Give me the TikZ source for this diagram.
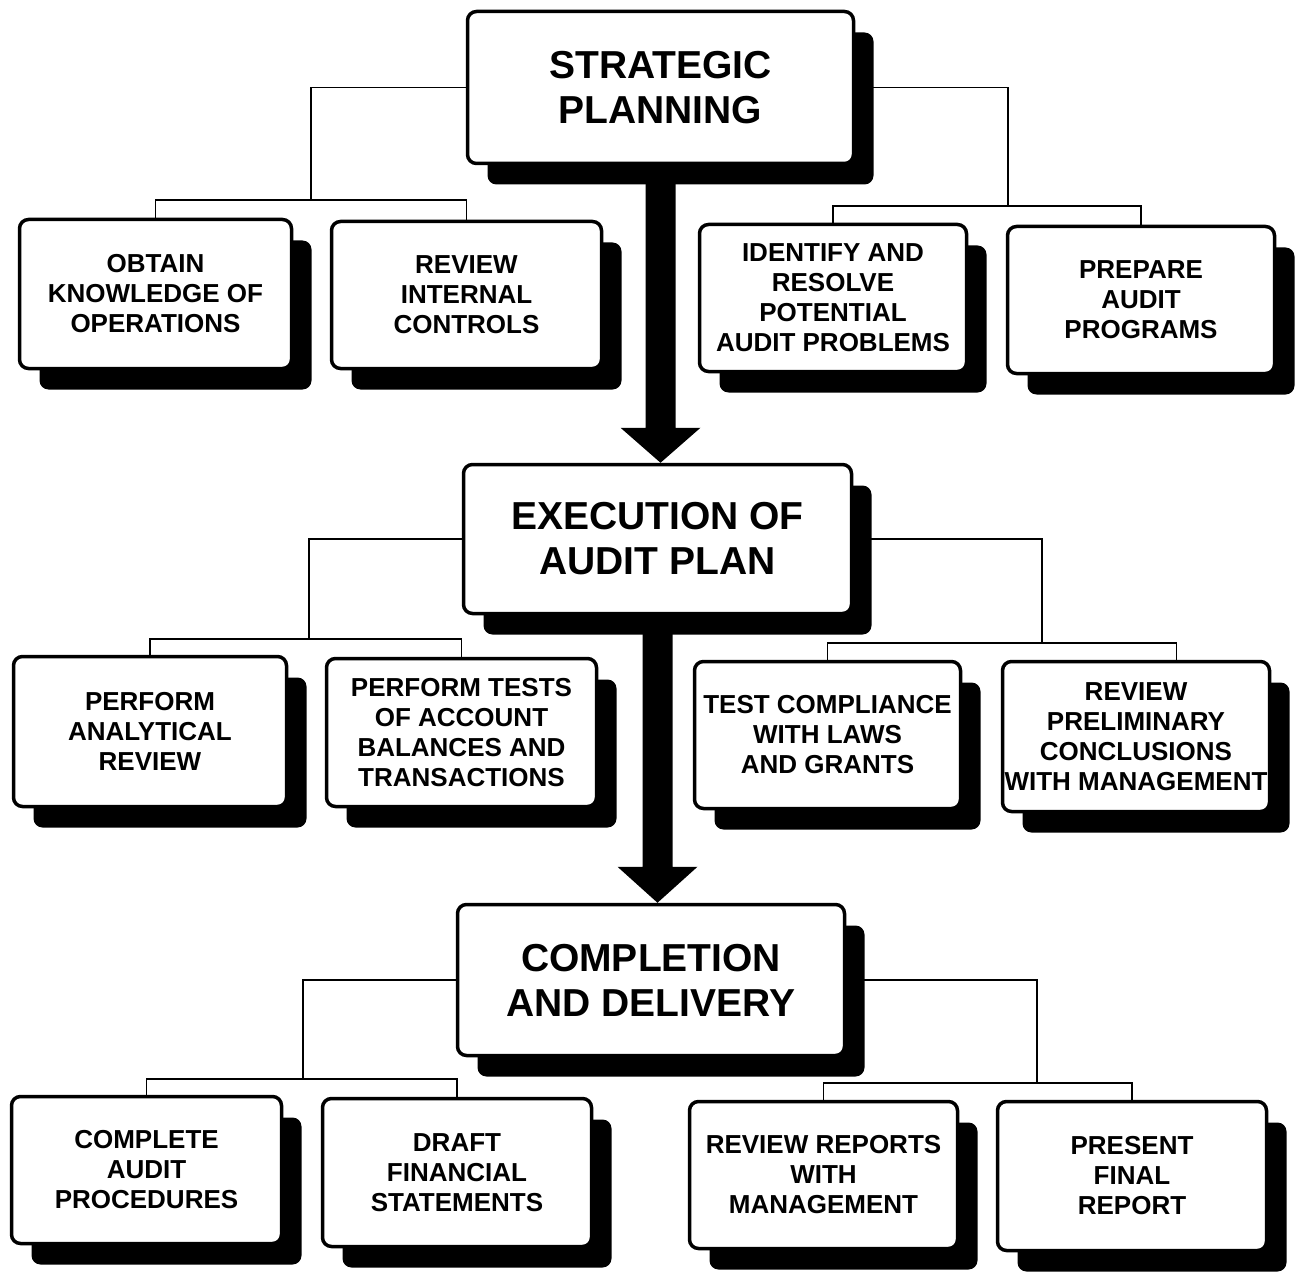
\documentclass[tikz,border=0pt]{standalone}
\usepackage{fontspec}
\setmainfont{Liberation Sans}
\usetikzlibrary{calc,shadows}
\begin{document}
\begin{tikzpicture}[x=1pt,y=-1pt,
  box/.style={draw=black, line width=3.5pt, fill=white, rounded corners=9pt,
    inner sep=0pt, align=center,
    font=\fontsize{26}{30}\selectfont\bfseries,
    general shadow={fill=black, shadow xshift=20pt, shadow yshift=-21pt}},
  bigbox/.style={box, font=\fontsize{39}{45}\selectfont\bfseries},
  conn/.style={line width=1.3pt},
  flow/.style={fill=black}]
\useasboundingbox (0,0) rectangle (1298,1273);

% main stages
\node[bigbox, minimum width=386pt, minimum height=152pt] (sp) at (660.5,87.5) {STRATEGIC\\PLANNING};
\node[bigbox, minimum width=388pt, minimum height=149pt] (ex) at (657.5,539) {EXECUTION OF\\AUDIT PLAN};
\node[bigbox, minimum width=387pt, minimum height=151pt] (cd) at (651,980) {COMPLETION\\AND DELIVERY};

% level 1
\node[box, minimum width=272pt, minimum height=149pt] (a1) at (155.5,294) {OBTAIN\\KNOWLEDGE OF\\OPERATIONS};
\node[box, minimum width=270pt, minimum height=147pt] (a2) at (466.5,295) {REVIEW\\INTERNAL\\CONTROLS};
\node[box, minimum width=267pt, minimum height=147pt] (a3) at (833,298) {IDENTIFY AND\\RESOLVE\\POTENTIAL\\AUDIT PROBLEMS};
\node[box, minimum width=267pt, minimum height=147pt] (a4) at (1141,300) {PREPARE\\AUDIT\\PROGRAMS};

% level 2
\node[box, minimum width=273pt, minimum height=150pt] (b1) at (150,731.5) {PERFORM\\ANALYTICAL\\REVIEW};
\node[box, minimum width=270pt, minimum height=148pt] (b2) at (461.5,732.5) {PERFORM TESTS\\OF ACCOUNT\\BALANCES AND\\TRANSACTIONS};
\node[box, minimum width=266pt, minimum height=147pt] (b3) at (827.5,735) {TEST COMPLIANCE\\WITH LAWS\\AND GRANTS};
\node[box, minimum width=267pt, minimum height=150pt] (b4) at (1136,736.5) {REVIEW\\PRELIMINARY\\CONCLUSIONS\\WITH MANAGEMENT};

% level 3
\node[box, minimum width=270pt, minimum height=147pt] (c1) at (146.5,1170) {COMPLETE\\AUDIT\\PROCEDURES};
\node[box, minimum width=269pt, minimum height=148pt] (c2) at (457,1172.5) {DRAFT\\FINANCIAL\\STATEMENTS};
\node[box, minimum width=268pt, minimum height=147pt] (c3) at (823.5,1175) {REVIEW REPORTS\\WITH\\MANAGEMENT};
\node[box, minimum width=269pt, minimum height=149pt] (c4) at (1132,1176) {PRESENT\\FINAL\\REPORT};

% junctions
\coordinate (j1) at (311,200);
\coordinate (j2) at (1008,206);
\coordinate (j3) at (309,639);
\coordinate (j4) at (1042,643);
\coordinate (j5) at (303,1079);
\coordinate (j6) at (1037,1083);
\coordinate (b4n) at ($(b4.north west)!0.65!(b4.north east)$);

% connectors
\draw[conn] (sp.west) -| (j1);
\draw[conn] (a1.north) |- (j1) -| (a2.north);
\draw[conn] (sp.east) -| (j2);
\draw[conn] (a3.north) |- (j2) -| (a4.north);
\draw[conn] (ex.west) -| (j3);
\draw[conn] (b1.north) |- (j3) -| (b2.north);
\draw[conn] (ex.east) -| (j4);
\draw[conn] (b3.north) |- (j4) -| (b4n);
\draw[conn] (cd.west) -| (j5);
\draw[conn] (c1.north) |- (j5) -| (c2.north);
\draw[conn] (cd.east) -| (j6);
\draw[conn] (c3.north) |- (j6) -| (c4.north);

% big flow arrows
\fill[flow] ($(sp.south)+(-15,0)$) -- ($(sp.south |- ex.north)+(-15,-35)$)
  -- ($(sp.south |- ex.north)+(-40,-35)$) -- (sp.south |- ex.north)
  -- ($(sp.south |- ex.north)+(40,-35)$) -- ($(sp.south |- ex.north)+(15,-35)$)
  -- ($(sp.south)+(15,0)$) -- cycle;
\fill[flow] ($(ex.south)+(-15,0)$) -- ($(ex.south |- cd.north)+(-15,-36)$)
  -- ($(ex.south |- cd.north)+(-40,-36)$) -- (ex.south |- cd.north)
  -- ($(ex.south |- cd.north)+(40,-36)$) -- ($(ex.south |- cd.north)+(15,-36)$)
  -- ($(ex.south)+(15,0)$) -- cycle;
\end{tikzpicture}
\end{document}
